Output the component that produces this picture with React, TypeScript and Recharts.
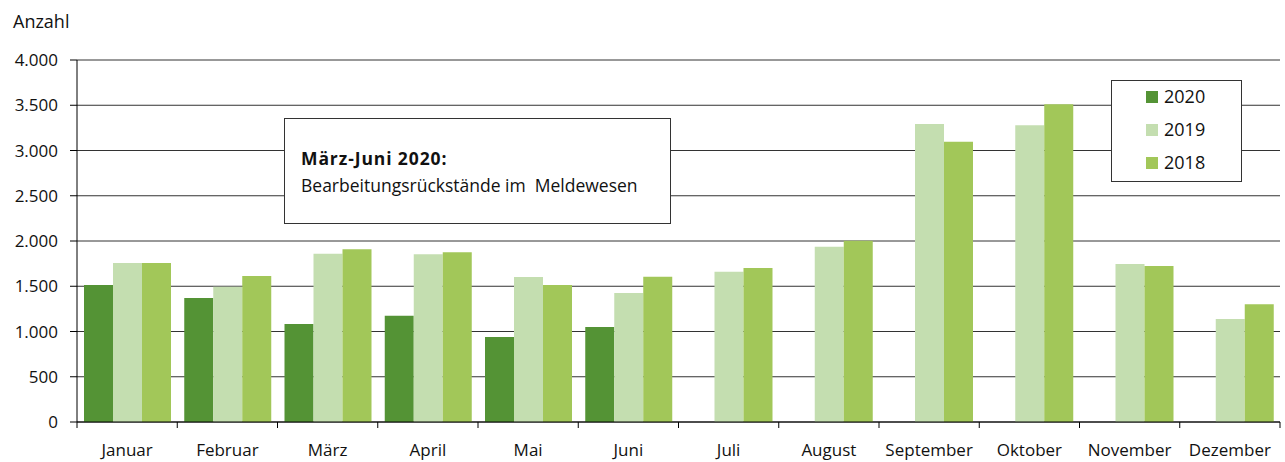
import React from 'react';
import { BarChart, Bar, XAxis, YAxis, CartesianGrid } from 'recharts';

const months = ['Januar', 'Februar', 'März', 'April', 'Mai', 'Juni', 'Juli', 'August', 'September', 'Oktober', 'November', 'Dezember'];
const values2020: (number | null)[] = [1515, 1370, 1083, 1173, 939, 1050, null, null, null, null, null, null];
const values2019 = [1758, 1495, 1860, 1853, 1602, 1425, 1660, 1937, 3292, 3278, 1746, 1138];
const values2018 = [1758, 1613, 1908, 1876, 1514, 1604, 1702, 2003, 3097, 3510, 1724, 1300];
const yTicks = [0, 500, 1000, 1500, 2000, 2500, 3000, 3500, 4000];
const seriesNames = ['2020', '2019', '2018'];
const colors = ['#549335', '#C4DEB0', '#A2C759'];
const yLabel = 'Anzahl';
const noteTitle = 'März-Juni 2020:';
const noteText = 'Bearbeitungsrückstände im  Meldewesen';

const data = months.map((m, i) => ({
  month: m,
  v2020: values2020[i],
  v2019: values2019[i],
  v2018: values2018[i],
}));

const W = 1285;
const H = 462;
const Y_AXIS_W = 77;
const RIGHT = 5;
const TOP = 60;
const X_AXIS_H = 40;
const PLOT_BOTTOM = H - X_AXIS_H;
const BAND = (W - Y_AXIS_W - RIGHT) / months.length;
const FONT = '"Open Sans", "Noto Sans", sans-serif';
const TEXT = '#111';

const fmt = (v: number) => String(v).replace(/\B(?=(\d{3})+(?!\d))/g, '.');

const MonthTick = (props: any) => {
  const { x, payload, index } = props;
  const half = BAND / 2;
  return (
    <g>
      <line x1={x - half} x2={x - half} y1={PLOT_BOTTOM} y2={PLOT_BOTTOM + 6} stroke="#000" strokeWidth={1} />
      {index === months.length - 1 && (
        <line x1={x + half} x2={x + half} y1={PLOT_BOTTOM} y2={PLOT_BOTTOM + 6} stroke="#000" strokeWidth={1} />
      )}
      <text x={x} y={PLOT_BOTTOM + 34} textAnchor="middle" fontSize={17} fontFamily={FONT} fill={TEXT}>
        {payload.value}
      </text>
    </g>
  );
};

export default function App() {
  return (
    <div style={{ position: 'absolute', left: 0, top: 0, width: W, height: H, background: '#fff', fontFamily: FONT }}>
      <BarChart
        width={W}
        height={H}
        data={data}
        margin={{ top: TOP, right: RIGHT, bottom: 0, left: 0 }}
        barCategoryGap={7}
        barGap={0}
      >
        <CartesianGrid vertical={false} stroke="#333" strokeWidth={1} />
        <YAxis
          width={Y_AXIS_W}
          domain={[0, 4000]}
          ticks={yTicks}
          interval={0}
          tickFormatter={fmt}
          axisLine={{ stroke: '#000', strokeWidth: 1 }}
          tickLine={{ stroke: '#000', strokeWidth: 1 }}
          tickSize={7}
          tickMargin={12}
          tick={{ fontSize: 17, fontFamily: FONT, fill: TEXT }}
        />
        <XAxis
          dataKey="month"
          height={X_AXIS_H}
          interval={0}
          tickSize={0}
          tickLine={false}
          axisLine={{ stroke: '#000', strokeWidth: 1 }}
          tick={<MonthTick />}
        />
        <Bar dataKey="v2020" name={seriesNames[0]} fill={colors[0]} isAnimationActive={false} />
        <Bar dataKey="v2019" name={seriesNames[1]} fill={colors[1]} isAnimationActive={false} />
        <Bar dataKey="v2018" name={seriesNames[2]} fill={colors[2]} isAnimationActive={false} />
      </BarChart>

      <div style={{ position: 'absolute', left: 13, top: 9, fontSize: 18, color: TEXT, lineHeight: 'normal' }}>{yLabel}</div>

      <div
        style={{
          position: 'absolute',
          left: 284,
          top: 118,
          width: 387,
          height: 106,
          boxSizing: 'border-box',
          border: '1px solid #333',
          background: '#fff',
        }}
      >
        <div
          style={{
            position: 'absolute',
            left: 16,
            top: 27,
            fontSize: 17.5,
            fontWeight: 700,
            letterSpacing: 0.9,
            color: TEXT,
            whiteSpace: 'pre',
          }}
        >
          {noteTitle}
        </div>
        <div style={{ position: 'absolute', left: 16, top: 54, fontSize: 17.5, color: TEXT, whiteSpace: 'pre' }}>{noteText}</div>
      </div>

      <div
        style={{
          position: 'absolute',
          left: 1111,
          top: 80,
          width: 131,
          height: 102,
          boxSizing: 'border-box',
          border: '1px solid #333',
          background: '#fff',
        }}
      >
        {seriesNames.map((n, i) => (
          <React.Fragment key={n}>
            <div
              style={{
                position: 'absolute',
                left: 34,
                top: 10 + i * 33,
                width: 12,
                height: 12,
                background: colors[i],
              }}
            />
            <div style={{ position: 'absolute', left: 52, top: 3 + i * 33, fontSize: 18, color: TEXT }}>{n}</div>
          </React.Fragment>
        ))}
      </div>
    </div>
  );
}
